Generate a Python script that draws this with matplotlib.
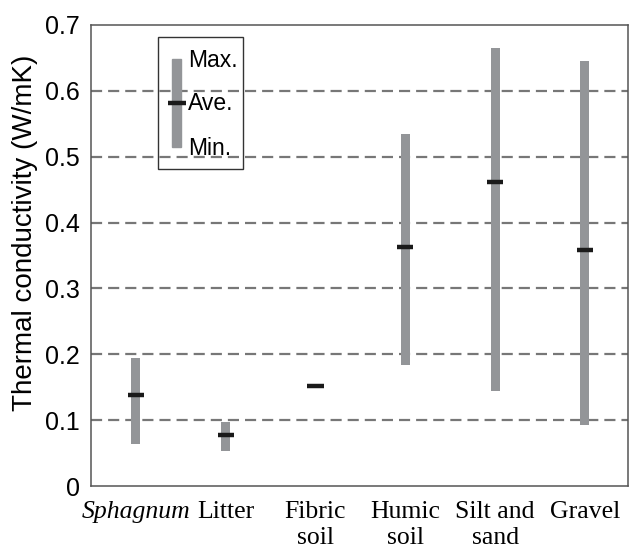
import matplotlib
matplotlib.use("Agg")
import matplotlib.pyplot as plt
from matplotlib.patches import Rectangle
from matplotlib import font_manager as fm
import numpy as np

categories = ["Sphagnum", "Litter", "Fibric\nsoil", "Humic\nsoil", "Silt and\nsand", "Gravel"]
max_vals = [0.195, 0.097, 0.152, 0.535, 0.665, 0.646]
avg_vals = [0.138, 0.077, 0.152, 0.363, 0.461, 0.358]
min_vals = [0.064, 0.053, 0.152, 0.183, 0.144, 0.093]
yticks = [0, 0.1, 0.2, 0.3, 0.4, 0.5, 0.6, 0.7]
ytick_labels = ["0", "0.1", "0.2", "0.3", "0.4", "0.5", "0.6", "0.7"]

names = {f.name for f in fm.fontManager.ttflist}
sans = "Liberation Sans Narrow" if "Liberation Sans Narrow" in names else "Liberation Sans"

fig = plt.figure(figsize=(6.3, 5.49), dpi=100)
ax = fig.add_axes([91/630, 1-486/549, (628-91)/630, (486-25)/549])

x = np.arange(len(categories))
bar_color = "#939598"
ax.bar(x, np.array(max_vals) - np.array(min_vals), bottom=min_vals, width=0.1,
       color=bar_color, zorder=3)
ax.hlines(avg_vals, x - 0.09, x + 0.09, colors="#1a1a1a", lw=3.2, zorder=4)

ax.set_xlim(-0.5, 5.48)
ax.set_ylim(0, 0.7)
ax.set_yticks(yticks)
ax.set_yticklabels(ytick_labels, fontsize=18, family="Liberation Sans")
ax.set_xticks(x)
ax.set_xticklabels(categories, fontsize=18.5, family="Liberation Serif", linespacing=1.2)
ax.get_xticklabels()[0].set_style("italic")
ax.tick_params(axis="both", length=0)
ax.tick_params(axis="x", pad=11)
ax.tick_params(axis="y", pad=8)

for yv in yticks[1:-1]:
    ax.axhline(yv, color="#777777", lw=1.6, dashes=(5, 2.7), zorder=1)

for s in ax.spines.values():
    s.set_color("#555555")
    s.set_linewidth(1.1)

ax.set_ylabel("Thermal conductivity (W/mK)", fontsize=20, family="Liberation Sans")
ax.yaxis.set_label_coords(-0.098, 0.55)

# Legend key
ax.add_patch(Rectangle((0.125, 0.688), 0.158, 0.286, transform=ax.transAxes,
                       fill=False, edgecolor="#333333", lw=1.0, zorder=5))
ax.add_patch(Rectangle((0.160 - 0.0085, 0.735), 0.017, 0.191, transform=ax.transAxes,
                       color=bar_color, zorder=6))
ax.plot([0.143, 0.177], [0.831, 0.831], transform=ax.transAxes, color="#1a1a1a",
        lw=3.2, zorder=7, solid_capstyle="butt")
for label, yy in [("Max.", 0.922), ("Ave.", 0.829), ("Min.", 0.733)]:
    ax.text(0.181, yy, label, transform=ax.transAxes, fontsize=16.5, family=sans,
            va="center", ha="left", zorder=7)

fig.savefig("out.png", dpi=100, facecolor="white")
